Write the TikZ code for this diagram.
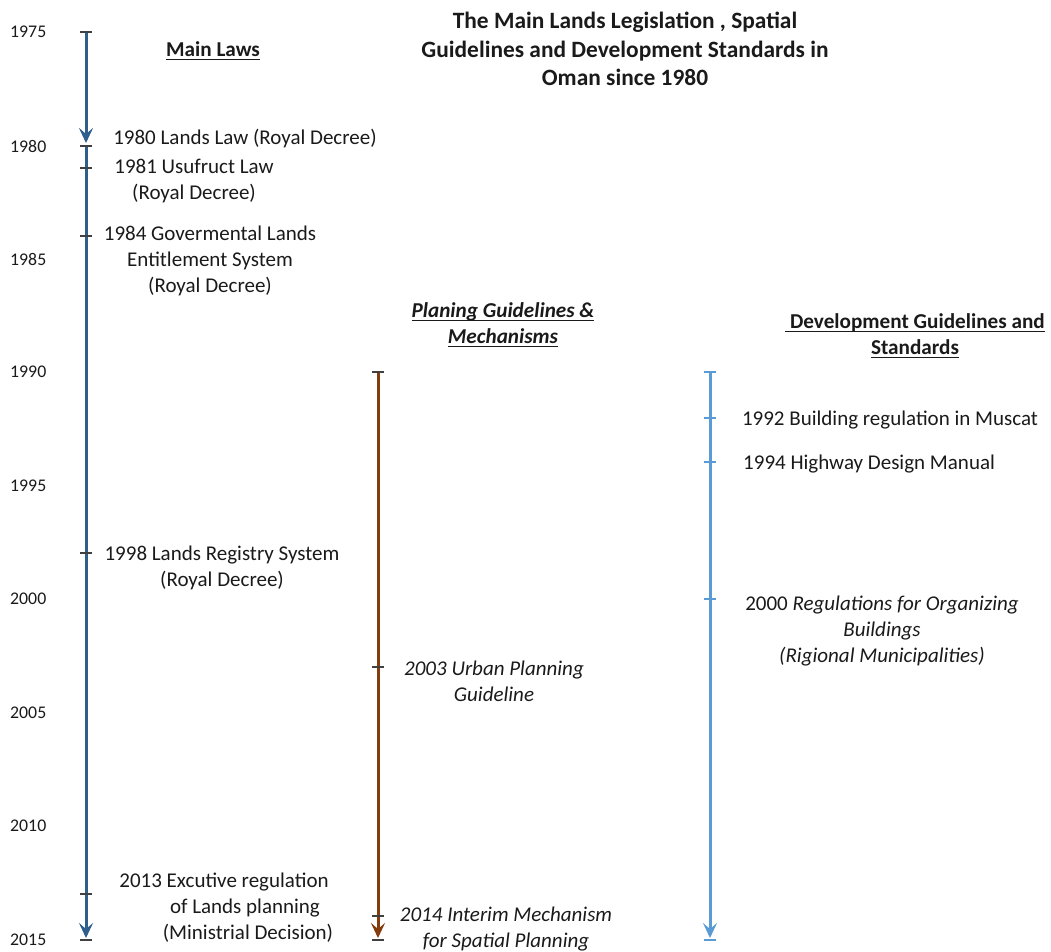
\documentclass[tikz,border=0pt]{standalone}
\usepackage{fontspec}
\setmainfont{Carlito}
\usetikzlibrary{arrows.meta}
\newcommand\myul[1]{\setbox0\hbox{#1}\rlap{\rule[-3.4pt]{\wd0}{1.4pt}}\box0}
\definecolor{lawblue}{RGB}{46,95,140}
\definecolor{planbrown}{RGB}{132,60,12}
\definecolor{devblue}{RGB}{91,155,213}
\definecolor{tickgray}{RGB}{64,64,64}
\definecolor{txt}{RGB}{26,26,26}
\tikzset{
  yearlbl/.style={anchor=west,inner sep=0pt,text=txt,font=\fontsize{17.8}{20}\selectfont},
  evlbl/.style={inner sep=0pt,align=center,text=txt,font=\fontsize{21}{26}\selectfont},
  evit/.style={evlbl,font=\fontsize{21}{26}\selectfont\itshape},
  headlbl/.style={inner sep=0pt,align=center,text=txt,font=\fontsize{21.2}{26}\selectfont\bfseries},
  titlelbl/.style={inner sep=0pt,align=center,text=txt,font=\fontsize{23.4}{28.5}\selectfont\bfseries},
  axisline/.style={line width=3pt,-{Stealth[length=15pt,width=14pt,inset=6pt]}},
  tickmark/.style={line width=2pt,tickgray},
  devtick/.style={line width=2pt,devblue},
}
\begin{document}
\begin{tikzpicture}[x=1pt,y=-1pt]
\useasboundingbox (0,0) rectangle (1051,951);
% year labels
\foreach \yr/\yy in {1975/32,1980/146,1985/259,1990/372,1995/486,2000/599,2005/713,2010/826,2015/940}
  \node[yearlbl] (yr\yr) at (10,\yy) {\yr};
% title and headings
\node[titlelbl] (title) at (625,49) {The Main Lands Legislation , Spatial\\Guidelines and Development Standards in\\Oman since 1980};
\node[headlbl] (hlaws) at (213,51) {\myul{Main Laws}};
\node[headlbl,font=\fontsize{21.2}{26}\selectfont\bfseries\itshape] (hplan) at (503,325) {\myul{Planing Guidelines \&}\\\myul{Mechanisms}};
\node[headlbl] (hdev) at (915,336) {\myul{\ Development Guidelines and}\\\myul{Standards}};
% main laws axis
\coordinate (L1975) at (86,32);
\coordinate (L1980) at (86,146);
\coordinate (L1981) at (86,168);
\coordinate (L1984) at (86,236);
\coordinate (L1998) at (86,553);
\coordinate (L2013) at (86,894);
\coordinate (L2015) at (86,940);
\draw[axisline,lawblue] (L1975) -- ([yshift=3pt]L1980);
\draw[axisline,lawblue] (L1980) -- ([yshift=2pt]L2015);
\foreach \c in {L1975,L1980,L1981,L1984,L1998,L2013,L2015}
  \draw[tickmark] ([xshift=-6pt]\c) -- ([xshift=6pt]\c);
\node[evlbl] (e1980) at (245,139) {1980 Lands Law (Royal Decree)};
\node[evlbl] (e1981) at (194,181) {1981 Usufruct Law\\(Royal Decree)};
\node[evlbl] (e1984) at (210,261) {1984 Govermental Lands\\Entitlement System\\(Royal Decree)};
\node[evlbl] (e1998) at (222,568) {1998 Lands Registry System\\(Royal Decree)};
\node[evlbl] (e2013) at (245,908) {2013 Excutive regulation\hspace*{42pt}\\of Lands planning\\\hspace*{6pt}(Ministrial Decision)};
% planning axis
\coordinate (P1990) at (378,372);
\coordinate (P2003) at (378,667);
\coordinate (P2014) at (378,916);
\coordinate (P2015) at (378,940);
\draw[axisline,planbrown] (P1990) -- ([yshift=2pt]P2015);
\foreach \c in {P1990,P2003,P2014,P2015}
  \draw[tickmark] ([xshift=-6pt]\c) -- ([xshift=6pt]\c);
\node[evit] (p2003) at (494,681) {2003 Urban Planning\\Guideline};
\node[evit] (p2014) at (506,929) {2014 Interim Mechanism\\for Spatial Planning};
% development axis
\coordinate (D1990) at (710,372);
\coordinate (D1992) at (710,418);
\coordinate (D1994) at (710,462);
\coordinate (D2000) at (710,599);
\coordinate (D2015) at (710,940);
\draw[axisline,devblue] (D1990) -- ([yshift=2pt]D2015);
\foreach \c in {D1990,D1992,D1994,D2000,D2015}
  \draw[devtick] ([xshift=-6pt]\c) -- ([xshift=6pt]\c);
\node[evlbl] (d1992) at (890,420) {1992 Building regulation in Muscat};
\node[evlbl,anchor=west] (d1994) at (743,464) {1994 Highway Design Manual};
\node[evlbl] (d2000) at (882,631) {2000 \textit{Regulations for Organizing}\\\textit{Buildings}\\\textit{(Rigional Municipalities)}};
\end{tikzpicture}
\end{document}
